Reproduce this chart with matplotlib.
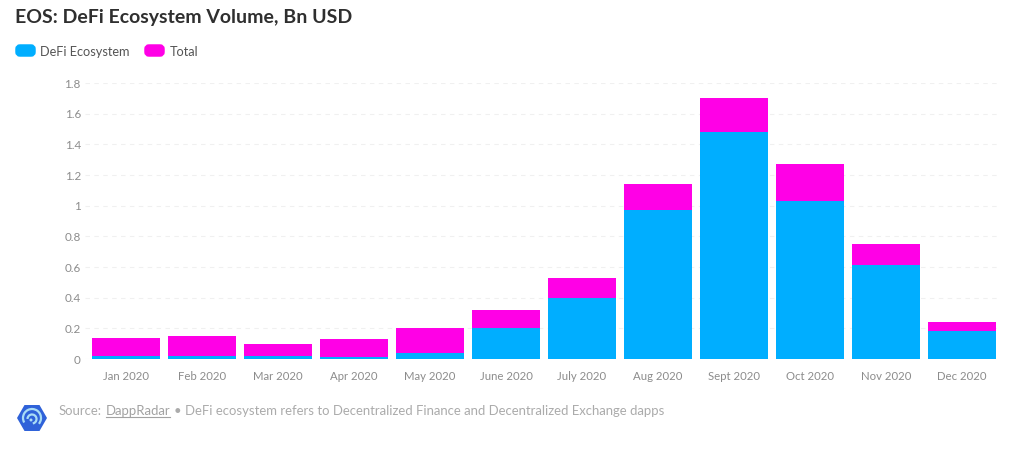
import matplotlib
matplotlib.use('Agg')
import matplotlib.pyplot as plt
from matplotlib.patches import FancyBboxPatch, RegularPolygon, Arc, Circle

plt.rcParams['font.family'] = ['Lato', 'DejaVu Sans']

months = ['Jan 2020', 'Feb 2020', 'Mar 2020', 'Apr 2020', 'May 2020', 'June 2020',
          'July 2020', 'Aug 2020', 'Sept 2020', 'Oct 2020', 'Nov 2020', 'Dec 2020']
defi = [0.02, 0.02, 0.02, 0.01, 0.04, 0.20, 0.40, 0.97, 1.48, 1.03, 0.61, 0.18]
rest = [0.12, 0.13, 0.08, 0.12, 0.16, 0.12, 0.13, 0.17, 0.22, 0.24, 0.14, 0.06]
y_ticks = [0, 0.2, 0.4, 0.6, 0.8, 1, 1.2, 1.4, 1.6, 1.8]
y_labels = ['0', '0.2', '0.4', '0.6', '0.8', '1', '1.2', '1.4', '1.6', '1.8']

W, H = 1020, 449
BLUE = '#00aeff'
PINK = '#ff00e6'

fig = plt.figure(figsize=(W / 100, H / 100), dpi=100)
# axes box in pixels: 85..1000 across, 83..359 down
ax = fig.add_axes([85 / W, 1 - 359 / H, 915 / W, 276 / H])

x = range(len(months))
ax.bar(x, defi, width=0.895, color=BLUE, zorder=3)
ax.bar(x, rest, width=0.895, bottom=defi, color=PINK, zorder=3)

ax.set_xlim(-0.54, 11.5)
ax.set_ylim(0, 1.8)
ax.set_xticks(list(x))
ax.set_xticklabels(months, fontsize=8.2, color='#8c8c8c')
ax.set_yticks(y_ticks)
ax.set_yticklabels(y_labels, fontsize=8.4, color='#8c8c8c')
ax.tick_params(length=0, axis='x', pad=9)
ax.tick_params(length=0, axis='y', pad=3)
ax.grid(axis='y', color='#f0f0f0', linewidth=0.8, linestyle=(0, (4, 4)), zorder=0)
for s in ax.spines.values():
    s.set_visible(False)

# everything outside the plot is placed in pixel coords
ov = fig.add_axes([0, 0, 1, 1])
ov.set_xlim(0, W)
ov.set_ylim(H, 0)
ov.axis('off')
ov.patch.set_alpha(0)

ov.text(15, 18, 'EOS: DeFi Ecosystem Volume, Bn USD', fontsize=14, fontweight='bold',
        color='#2f2f2f', va='center')

ov.add_patch(FancyBboxPatch((17, 46), 17, 9, boxstyle='round,pad=0,rounding_size=3',
                            fc=BLUE, ec=BLUE, lw=2.5))
ov.text(40, 51.5, 'DeFi Ecosystem', fontsize=9.2, color='#555555', va='center')
ov.add_patch(FancyBboxPatch((146, 46), 17, 9, boxstyle='round,pad=0,rounding_size=3',
                            fc=PINK, ec=PINK, lw=2.5))
ov.text(170, 51.5, 'Total', fontsize=9.2, color='#555555', va='center')

# logo
ov.add_patch(RegularPolygon((32, 418), 6, radius=15, orientation=0.5236,
                            fc='#2f62d9', ec='none'))
ov.add_patch(Arc((32, 418), 18, 18, theta1=150, theta2=400, color='#a9dcf5', lw=1.6))
ov.add_patch(Arc((32, 419), 9, 9, theta1=180, theta2=440, color='#a9dcf5', lw=1.6))
ov.add_patch(Circle((31, 420), 1.5, fc='#a9dcf5', ec='none'))

# footer, pieces chained so the link can be underlined
r = fig.canvas.get_renderer()
fx = 59
fy = 411
t1 = ov.text(fx, fy, 'Source:', fontsize=9.45, color='#ababab', va='center')
e1 = t1.get_window_extent(r)
t2 = ov.text(e1.x1 + 4, fy, 'DappRadar', fontsize=9.45, color='#a2a2a2', va='center')
e2 = t2.get_window_extent(r)
ov.plot([e2.x0, e2.x1 - 1], [417, 417], color='#a2a2a2', lw=0.8)
ov.text(e2.x1 + 3, fy, '• DeFi ecosystem refers to Decentralized Finance and Decentralized Exchange dapps',
        fontsize=9.45, color='#ababab', va='center')

fig.savefig('out.png', dpi=100)
